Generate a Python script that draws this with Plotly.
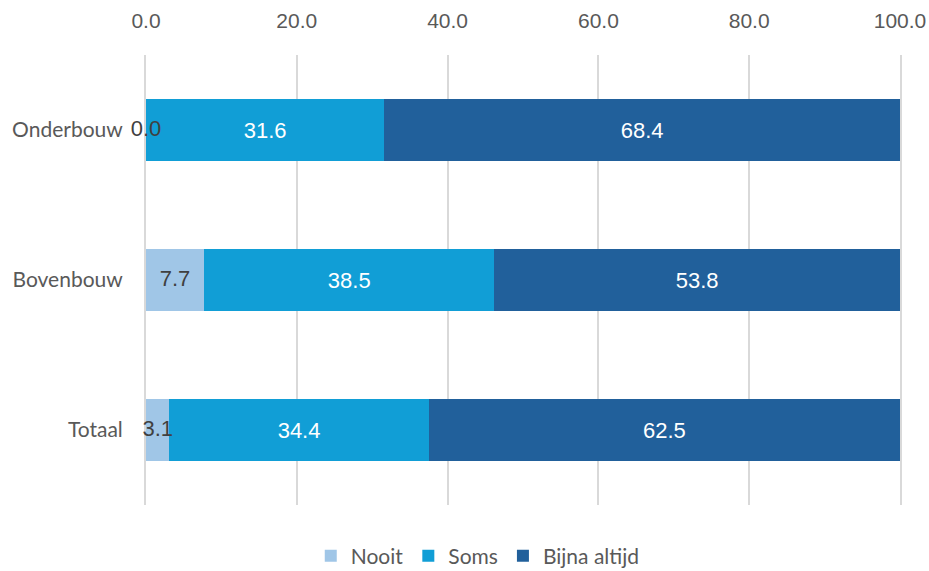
import plotly.graph_objects as go

categories = ["Onderbouw", "Bovenbouw", "Totaal"]
nooit = [0.0, 7.7, 3.1]
soms = [31.6, 38.5, 34.4]
bijna_altijd = [68.4, 53.8, 62.5]
x_ticks = [0, 20, 40, 60, 80, 100]

c_nooit = "#A0C6E7"
c_soms = "#119ED6"
c_bijna = "#21609B"
font_main = "Lato, Open Sans, sans-serif"
font_num = "Liberation Sans, Arial, sans-serif"

fig = go.Figure()
fig.add_trace(go.Bar(
    y=categories, x=nooit, name="Nooit", orientation="h",
    marker=dict(color=c_nooit, line=dict(width=0)),
    textposition="none", hoverinfo="x+name",
))
fig.add_trace(go.Bar(
    y=categories, x=soms, name="Soms", orientation="h",
    marker=dict(color=c_soms, line=dict(width=0)),
    text=[f"{v:.1f}" for v in soms], textposition="inside",
    insidetextanchor="middle",
    textfont=dict(color="white", size=22, family=font_num),
))
fig.add_trace(go.Bar(
    y=categories, x=bijna_altijd, name="Bijna altijd", orientation="h",
    marker=dict(color=c_bijna, line=dict(width=0)),
    text=[f"{v:.1f}" for v in bijna_altijd], textposition="inside",
    insidetextanchor="middle",
    textfont=dict(color="white", size=22, family=font_num),
))
# Labels for the "Nooit" segment (also visible for zero-width bars)
fig.add_trace(go.Scatter(
    y=categories, x=[v / 2 for v in nooit], mode="text",
    text=[f"{v:.1f}" for v in nooit],
    textfont=dict(color="#404040", size=22, family=font_num),
    showlegend=False, hoverinfo="skip", cliponaxis=False,
))

W, H = 929, 571
fig.update_layout(
    width=W, height=H,
    barmode="stack", bargap=0.59,
    plot_bgcolor="white", paper_bgcolor="white",
    margin=dict(l=146, r=29, t=55, b=66),
    font=dict(family=font_main, color="#595959", size=21),
    showlegend=True,
    legend=dict(orientation="h", x=0.44, xanchor="center",
                yref="container", y=15 / H, yanchor="middle",
                font=dict(size=21, color="#595959"), traceorder="normal",
                itemwidth=30),
    xaxis=dict(
        side="top", range=[0, 100], tickvals=x_ticks,
        ticktext=[f"{v:.1f}" for v in x_ticks],
        showgrid=True, gridcolor="#D9D9D9", gridwidth=2,
        zeroline=False, showline=False, ticks="",
        tickfont=dict(family=font_num, size=21, color="#595959"),
        ticklabelstandoff=22, fixedrange=True, automargin=False,
        layer="below traces",
    ),
    yaxis=dict(
        categoryorder="array", categoryarray=categories, autorange="reversed",
        showgrid=False, zeroline=False, ticks="",
        showline=True, mirror=True, linecolor="#D9D9D9", linewidth=2,
        tickfont=dict(size=21, color="#595959"),
        ticklabelstandoff=17, automargin=False, fixedrange=True,
        layer="below traces",
    ),
)

fig.write_html(
    "out.html",
    config={"displayModeBar": False},
    post_script="document.body.style.margin='0';document.body.style.overflow='hidden';",
)
